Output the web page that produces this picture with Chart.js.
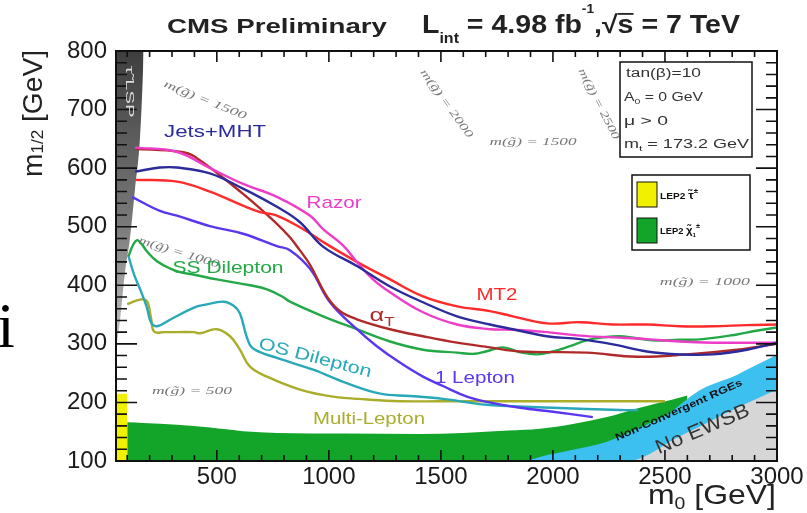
<!DOCTYPE html>
<html>
<head>
<meta charset="utf-8">
<script src="https://cdn.jsdelivr.net/npm/chart.js@4.4.3/dist/chart.umd.min.js"></script>
<style>
  html, body { margin: 0; padding: 0; background: #fff; }
  #c { display: block; }
</style>
</head>
<body>
<canvas id="c" width="807" height="513"></canvas>
<script>
// axis ticks
const xTicks = [500, 1000, 1500, 2000, 2500, 3000];
const yTicks = [100, 200, 300, 400, 500, 600, 700, 800];

// exclusion contours, [m0, m1/2] in GeV
const jetsMht = [[135,594],[246,601],[322,601],[469,591],[617,565],[768,534],[870,508],[974,466],[1125,433],[1273,398],[1420,371],[1572,347],[1719,333],[1821,325],[1973,313],[2120,308],[2268,299],[2419,287],[2567,282],[2714,282],[2866,290],[3000,302]];
const razor = [[135,635],[320,628],[470,600],[617,573],[768,551],[915,519],[974,496],[1063,468],[1125,440],[1197,410],[1273,388],[1420,354],[1572,333],[1719,325],[1821,324],[1973,320],[2120,314],[2268,311],[2419,308],[2567,304],[2714,302],[2866,302],[3000,302]];
const mt2 = [[135,580],[322,577],[469,560],[617,536],[693,525],[768,519],[884,496],[974,474],[1125,440],[1273,410],[1420,381],[1572,364],[1719,356],[1821,347],[1973,335],[2120,337],[2268,333],[2419,333],[2567,330],[2714,330],[2866,332],[3000,333]];
const alphaT = [[135,633],[336,628],[400,620],[617,556],[768,505],[826,482],[870,460],[916,435],[991,381],[1049,356],[1125,342],[1273,325],[1420,313],[1572,302],[1719,294],[1853,287],[2152,285],[2375,278],[2598,282],[2821,290],[3000,300]];
const oneLepton = [[121,551],[246,527],[322,519],[469,501],[617,488],[768,467],[826,460],[916,428],[1005,371],[1125,325],[1214,296],[1317,268],[1420,244],[1509,228],[1616,210],[1705,201],[1853,191],[2000,184],[2178,175]];
const ssDilepton = [[106,450],[125,468],[144,477],[165,470],[188,458],[233,441],[295,428],[340,422],[400,418],[500,410],[648,400],[724,393],[795,380],[826,372],[974,347],[1125,325],[1273,304],[1420,290],[1572,285],[1650,283],[1700,287],[1777,294],[1850,286],[1928,282],[2000,287],[2076,296],[2150,306],[2223,311],[2300,313],[2446,306],[2567,307],[2669,308],[2821,316],[2900,322],[3000,328]];
const osDilepton = [[104,452],[130,419],[161,390],[188,362],[206,337],[233,330],[295,342],[398,362],[450,367],[530,372],[575,365],[603,352],[635,310],[662,292],[768,276],[930,256],[1080,233],[1230,215],[1362,211],[1509,206],[1705,196],[2000,191],[2299,187],[2380,187]];
const multiLepton = [[100,368],[161,376],[188,373],[206,345],[220,321],[264,320],[398,320],[425,318],[500,325],[559,313],[603,290],[648,261],[724,244],[871,222],[1018,210],[1170,205],[1317,202],[1500,202],[2000,202],[2500,202]];

// shaded regions (upper edges)
const stauLsp = [[50,290],[68,340],[90,422],[112,479],[135,565],[157,651],[170,760],[173,800]];
const lepSlepton = [[50,215],[100,215]];
const lepChargino = [[100,166],[170,165],[322,162],[470,157],[617,151],[768,148],[1063,147],[1406,146],[1600,148],[1800,152],[1942,155],[2089,163],[2241,175],[2388,191],[2535,205],[2600,212]];
const nonConvergent = [[1880,100],[1942,107],[2089,119],[2241,133],[2388,157],[2508,179],[2580,200],[2620,212],[2687,227],[2803,244],[2892,261],[2982,278],[3000,282]];
const noEwsb = [[2350,100],[2400,106],[2535,136],[2687,165],[2834,193],[3000,222]];

const FONT = "'Liberation Sans', Arial, sans-serif";
const SERIF = "'Liberation Serif', 'Times New Roman', serif";

const pts = (arr) => arr.map(([x, y]) => ({ x, y }));

function curve(data, color) {
  return {
    data: pts(data),
    borderColor: color,
    borderWidth: 2.4,
    pointRadius: 0,
    fill: false,
    tension: 0.4,
    order: 1,
  };
}

function region(data, color, fill, order) {
  return {
    data: pts(data),
    borderWidth: 0,
    borderColor: 'rgba(0,0,0,0)',
    backgroundColor: color,
    pointRadius: 0,
    fill,
    cubicInterpolationMode: 'monotone',
    order,
  };
}

function rich(ctx, parts, x, y, o = {}) {
  ctx.save();
  ctx.translate(x, y);
  if (o.angle) ctx.rotate(o.angle * Math.PI / 180);
  ctx.textBaseline = 'alphabetic';
  ctx.textAlign = 'left';
  ctx.fillStyle = o.color || '#111';
  const fam = o.family || FONT;
  const pre = (o.italic ? 'italic ' : '') + (o.bold ? 'bold ' : '');
  let total = 0;
  const ws = parts.map((p) => {
    ctx.font = pre + p.s + 'px ' + fam;
    const w = ctx.measureText(p.t).width;
    total += w;
    return w;
  });
  ctx.scale(o.width ? o.width / total : 1, 1);
  let cx = o.align === 'right' ? -total : o.align === 'center' ? -total / 2 : 0;
  parts.forEach((p, i) => {
    ctx.font = pre + p.s + 'px ' + fam;
    ctx.fillText(p.t, cx, p.dy || 0);
    if (p.over) ctx.fillRect(cx, (p.dy || 0) - p.s * 0.8, ws[i], 1.8);
    cx += ws[i];
  });
  ctx.restore();
}

const decor = {
  id: 'decor',
  afterDatasetsDraw(chart) {
    const { ctx, chartArea: a, scales: { x, y } } = chart;
    const X = (v) => x.getPixelForValue(v);
    const Y = (v) => y.getPixelForValue(v);

    // frame + inward ticks
    ctx.save();
    ctx.strokeStyle = '#111';
    ctx.lineWidth = 1.6;
    ctx.beginPath();
    for (let v = 100; v <= 3000; v += 100) {
      const len = v % 500 === 0 ? 11 : 6;
      ctx.moveTo(X(v), a.bottom); ctx.lineTo(X(v), a.bottom - len);
      ctx.moveTo(X(v), a.top); ctx.lineTo(X(v), a.top + len);
    }
    for (let v = 100; v <= 800; v += 20) {
      const len = v % 100 === 0 ? 21 : 11;
      ctx.moveTo(a.left, Y(v)); ctx.lineTo(a.left + len, Y(v));
      ctx.moveTo(a.right, Y(v)); ctx.lineTo(a.right - len, Y(v));
    }
    ctx.stroke();
    ctx.lineWidth = 2;
    ctx.strokeRect(a.left, a.top, a.right - a.left, a.bottom - a.top);
    ctx.restore();

    // stau LSP text in the grey wedge
    rich(ctx, [{ t: 'τ̃ LSP', s: 10 }], X(60) + 8, Y(775), { angle: 90, color: '#ddd', width: 52 });

    // gluino mass labels
    const gl = (t, m0, m12, w, angle) =>
      rich(ctx, [{ t: 'm(g̃) = ' + t, s: 11 }], X(m0), Y(m12) + 4, { family: SERIF, italic: true, color: '#777', width: w, align: 'center', angle });
    gl('1500', 443, 718, 88, 22);
    gl('2000', 1514, 714, 82, 54);
    gl('1500', 1911, 647, 87, 0);
    gl('2500', 2192, 714, 78, 63);
    gl('1000', 327, 458, 84, 17);
    gl('1000', 2678, 407, 90, 0);
    gl('500', 389, 222, 80, 0);

    // curve labels
    const lab = (t, m0, m12, color, w, angle) =>
      rich(ctx, [{ t, s: 17 }], X(m0), Y(m12) + 6, { color, width: w, align: 'center', angle });
    lab('Jets+MHT', 492, 663, '#2b2b9c', 102);
    lab('Razor', 1023, 543, '#ee3cc8', 55);
    lab('SS Dilepton', 550, 431, '#22a845', 111);
    lab('MT2', 1750, 385, '#ff2a2a', 41);
    lab('OS Dilepton', 933, 278, '#28a8b8', 116, 14.5);
    lab('1 Lepton', 1652, 244, '#5b36f0', 80);
    lab('Multi-Lepton', 1179, 174, '#a9ad2a', 112);
    rich(ctx, [{ t: 'α', s: 18 }, { t: 'T', s: 12, dy: 5 }], X(1237), Y(347) + 5, { color: '#b02a2a', width: 25, align: 'center' });
    rich(ctx, [{ t: 'Non-Convergent RGEs', s: 10 }], X(2567), Y(187) + 3, { bold: true, color: '#111', width: 138, align: 'center', angle: -24 });
    rich(ctx, [{ t: 'No EWSB', s: 20 }], X(2678), Y(157) + 7, { color: '#333', width: 100, align: 'center', angle: -23 });

    // info box
    ctx.save();
    ctx.strokeStyle = '#111';
    ctx.lineWidth = 1.5;
    ctx.fillStyle = '#fff';
    ctx.fillRect(620, 62, 132, 95);
    ctx.strokeRect(620, 62, 132, 95);
    ctx.fillRect(632, 175, 118, 75);
    ctx.strokeRect(632, 175, 118, 75);
    ctx.lineWidth = 1;
    ctx.fillStyle = '#f0f000';
    ctx.fillRect(637, 182, 20, 25);
    ctx.strokeRect(637, 182, 20, 25);
    ctx.fillStyle = '#12a52a';
    ctx.fillRect(637, 218, 20, 25);
    ctx.strokeRect(637, 218, 20, 25);
    ctx.restore();
    rich(ctx, [{ t: 'tan(β)=10', s: 12 }], 626, 77, { color: '#333', width: 75 });
    rich(ctx, [{ t: 'A', s: 12 }, { t: '0', s: 8, dy: 3 }, { t: ' = 0 GeV', s: 12 }], 624, 101, { color: '#333', width: 79 });
    rich(ctx, [{ t: 'μ > 0', s: 12 }], 624, 125, { color: '#333', width: 44 });
    rich(ctx, [{ t: 'm', s: 12 }, { t: 't', s: 8, dy: 3 }, { t: ' = 173.2 GeV', s: 12 }], 624, 148, { color: '#333', width: 125 });
    rich(ctx, [{ t: 'LEP2 ', s: 9 }, { t: 'τ̃', s: 11 }, { t: '±', s: 7, dy: -6 }], 660, 199, { bold: true, color: '#111', width: 38 });
    rich(ctx, [{ t: 'LEP2 ', s: 9 }, { t: 'χ̃', s: 11 }, { t: '1', s: 6, dy: 3 }, { t: '±', s: 7, dy: -6 }], 660, 234, { bold: true, color: '#111', width: 40 });

    // titles
    rich(ctx, [{ t: 'CMS Preliminary', s: 21 }], 167, 33, { bold: true, color: '#222', width: 220 });
    rich(ctx, [
      { t: 'L', s: 25 }, { t: 'int', s: 14, dy: 10 }, { t: ' = 4.98 fb', s: 25 }, { t: '-1', s: 12, dy: -20 },
      { t: ',√', s: 25 }, { t: 's', s: 25, over: true }, { t: ' = 7 TeV', s: 25 },
    ], 422, 33, { bold: true, color: '#222', width: 318 });
    rich(ctx, [{ t: 'm', s: 28 }, { t: '1/2', s: 17, dy: 1 }, { t: ' [GeV]', s: 28 }], 42, 177, { angle: -90, color: '#222', width: 127 });
    rich(ctx, [{ t: 'm', s: 28 }, { t: '0', s: 17, dy: 5 }, { t: ' [GeV]', s: 28 }], 776, 504, { color: '#222', width: 128, align: 'right' });
    rich(ctx, [{ t: 'i', s: 64 }], -3, 347, { family: SERIF, color: '#000' });
  },
};

new Chart(document.getElementById('c'), {
  type: 'line',
  data: {
    datasets: [
      curve(jetsMht, '#2b2b9c'),
      curve(razor, '#ee3cc8'),
      curve(mt2, '#ff2a2a'),
      curve(alphaT, '#b02a2a'),
      curve(oneLepton, '#5b36f0'),
      curve(ssDilepton, '#22a845'),
      curve(osDilepton, '#28a8b8'),
      curve(multiLepton, '#a9ad2a'),
      region(noEwsb, '#d6d6d6', 'start', 17),
      region(nonConvergent, '#3cc0f0', 'start', 18),
      region(lepChargino, '#12a52a', 'start', 19),
      region(lepSlepton, '#f0f000', 'start', 20),
      region(stauLsp, (c) => {
        const area = c.chart.chartArea;
        if (!area) return '#666';
        const g = c.chart.ctx.createLinearGradient(0, area.top, 0, area.top + 290);
        g.addColorStop(0, '#3e3e3e');
        g.addColorStop(0.6, '#7a7a7a');
        g.addColorStop(1, '#c4c4c4');
        return g;
      }, 'end', 20),
    ],
  },
  options: {
    responsive: false,
    animation: false,
    events: [],
    layout: { padding: { left: 0, right: 30, top: 51, bottom: 0 } },
    plugins: { legend: { display: false }, tooltip: { enabled: false } },
    scales: {
      x: {
        type: 'linear',
        min: 50,
        max: 3000,
        grid: { display: false, drawTicks: false },
        border: { display: false },
        afterBuildTicks: (s) => { s.ticks = xTicks.map((value) => ({ value })); },
        afterFit: (s) => { s.height = 52; },
        ticks: { font: { size: 24, family: FONT }, color: '#1a1a1a', padding: 2, autoSkip: false, maxRotation: 0, callback: (v) => String(v) },
      },
      y: {
        type: 'linear',
        min: 100,
        max: 800,
        grid: { display: false, drawTicks: false },
        border: { display: false },
        afterBuildTicks: (s) => { s.ticks = yTicks.map((value) => ({ value })); },
        afterFit: (s) => { s.width = 116; },
        ticks: { font: { size: 24, family: FONT }, color: '#1a1a1a', padding: 9, autoSkip: false, callback: (v) => String(v) },
      },
    },
  },
  plugins: [decor],
});
</script>
</body>
</html>
